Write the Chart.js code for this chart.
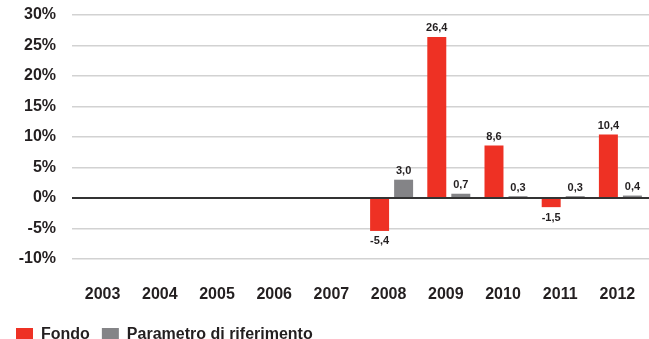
<!DOCTYPE html>
<html>
<head>
<meta charset="utf-8">
<style>
  html, body { margin: 0; padding: 0; background: #ffffff; }
  #wrap { width: 649px; height: 339px; position: relative; }
</style>
<script src="https://cdn.jsdelivr.net/npm/chart.js@4/dist/chart.umd.min.js"></script>
</head>
<body>
<div id="wrap"><canvas id="chart" width="649" height="339"></canvas></div>
<script>
// Annual returns, fund vs. benchmark (%)
const years = ['2003', '2004', '2005', '2006', '2007', '2008', '2009', '2010', '2011', '2012'];
const fondo = [null, null, null, null, null, -5.4, 26.4, 8.6, -1.5, 10.4];
const parametro = [null, null, null, null, null, 3.0, 0.7, 0.3, 0.3, 0.4];
const yTicks = [-10, -5, 0, 5, 10, 15, 20, 25, 30];

const FONT = '"Liberation Sans", Arial, Helvetica, sans-serif';
const RED = '#ee3124';
const GREY = '#848487';
const TEXT = '#231f20';

// Writes each bar's value (decimal comma) above positive bars, below negative ones
const valueLabels = {
  id: 'valueLabels',
  afterDatasetsDraw(chart) {
    const ctx = chart.ctx;
    ctx.save();
    ctx.font = 'bold 11px ' + FONT;
    ctx.fillStyle = TEXT;
    ctx.textAlign = 'center';
    chart.data.datasets.forEach((ds, di) => {
      const meta = chart.getDatasetMeta(di);
      meta.data.forEach((bar, i) => {
        const v = ds.data[i];
        if (v === null || v === undefined) return;
        const txt = v.toFixed(1).replace('.', ',');
        if (v >= 0) {
          ctx.textBaseline = 'bottom';
          ctx.fillText(txt, bar.x, bar.y - 3);
        } else {
          ctx.textBaseline = 'top';
          ctx.fillText(txt, bar.x, bar.y + 5);
        }
      });
    });
    ctx.restore();
  }
};

new Chart(document.getElementById('chart'), {
  type: 'bar',
  data: {
    labels: years,
    datasets: [
      { label: 'Fondo', data: fondo, backgroundColor: RED, borderWidth: 0 },
      { label: 'Parametro di riferimento', data: parametro, backgroundColor: GREY, borderWidth: 0 }
    ]
  },
  options: {
    responsive: false,
    animation: false,
    devicePixelRatio: 1,
    layout: { padding: { top: 15, left: 4, right: 0, bottom: -14 } },
    datasets: { bar: { categoryPercentage: 0.84, barPercentage: 0.79 } },
    scales: {
      x: {
        grid: { display: false, drawTicks: false },
        border: { display: false },
        ticks: {
          color: TEXT,
          font: { family: FONT, size: 16, weight: 'bold' },
          padding: 26,
          labelOffset: -3,
          maxRotation: 0
        },
        afterFit(scale) {
          scale.height = 56;
          scale.paddingLeft = 0;
          scale.paddingRight = 0;
        }
      },
      y: {
        min: -10,
        max: 30,
        border: { display: false },
        afterBuildTicks(scale) { scale.ticks = yTicks.map(v => ({ value: v })); },
        afterFit(scale) {
          scale.width = 73;
          scale.paddingTop = 0;
          scale.paddingBottom = 0;
        },
        grid: {
          drawTicks: true,
          tickLength: 5,
          color: c => (c.tick && c.tick.value === 0 ? '#333333' : '#d2d2d2'),
          tickColor: c => (c.tick && c.tick.value === 0 ? '#333333' : '#d2d2d2'),
          lineWidth: c => (c.tick && c.tick.value === 0 ? 2 : 1.5),
          tickWidth: c => (c.tick && c.tick.value === 0 ? 2 : 1.5)
        },
        ticks: {
          color: TEXT,
          padding: 16,
          font: { family: FONT, size: 16, weight: 'bold' },
          callback: v => v + '%'
        }
      }
    },
    plugins: {
      tooltip: { enabled: false },
      legend: {
        position: 'bottom',
        align: 'start',
        labels: {
          boxWidth: 17,
          boxHeight: 14,
          padding: 12,
          color: TEXT,
          font: { family: FONT, size: 16, weight: 'bold' }
        }
      }
    }
  },
  plugins: [valueLabels]
});
</script>
</body>
</html>
